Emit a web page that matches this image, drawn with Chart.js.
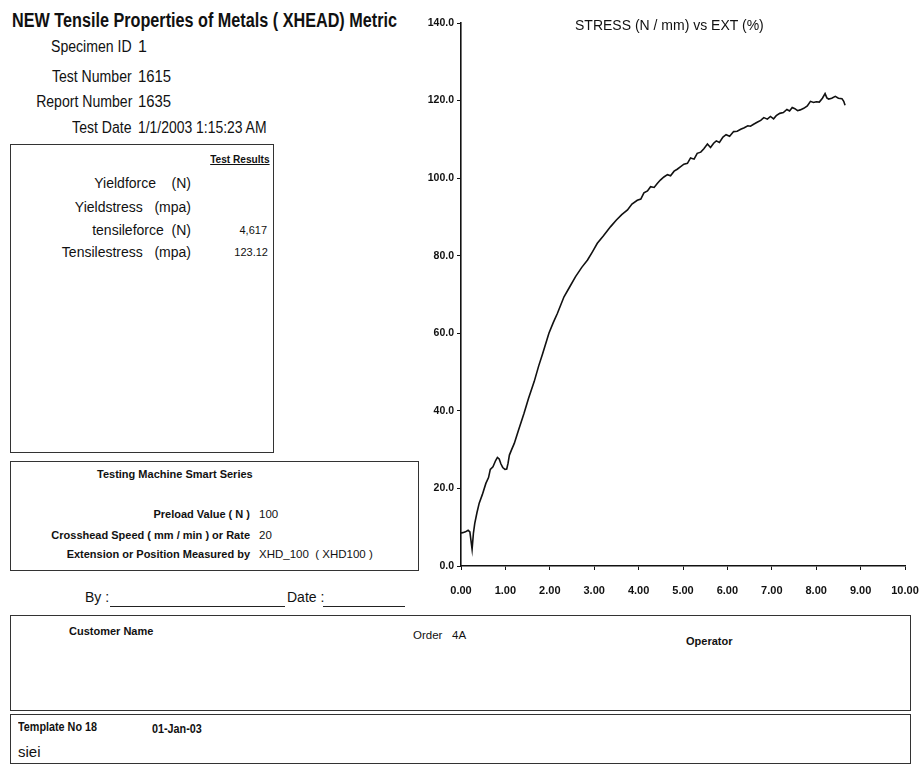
<!DOCTYPE html>
<html lang="en">
<head>
    <meta charset="UTF-8">
    <title>Tensile Properties of Metals</title>
    <script src="https://cdn.jsdelivr.net/npm/chart.js"></script>
    <style>
        body {
            margin: 0;
            background: #fff;
            color: #111;
            font-family: 'Liberation Sans', Arial, sans-serif;
        }
        #page {
            position: relative;
            width: 922px;
            height: 772px;
            overflow: hidden;
        }
        .t {
            position: absolute;
            white-space: nowrap;
            line-height: 1;
            transform-origin: left center;
        }
        .r { text-align: right; transform-origin: right center; }
        .b { font-weight: bold; }
        .hd { font-size: 16px; transform: scaleX(0.88); }
        .box {
            position: absolute;
            border: 1.5px solid #333;
            box-sizing: border-box;
        }
        .line {
            position: absolute;
            height: 0;
            border-top: 1.3px solid #222;
        }
        #chartWrap {
            position: absolute;
            left: 400px;
            top: 0;
            width: 522px;
            height: 620px;
        }
    </style>
</head>
<body>
<div id="page">
    <div class="t b" style="left:12px; top:10px; font-size:20px; transform:scaleX(0.81);">NEW Tensile Properties of Metals ( XHEAD) Metric</div>

    <div class="t r hd" style="right:790px; top:39px;">Specimen ID</div>
    <div class="t" style="left:138px; top:39px; font-size:16px;">1</div>
    <div class="t r hd" style="right:790px; top:69px;">Test Number</div>
    <div class="t" style="left:138px; top:69px; font-size:16px; transform:scaleX(0.93);">1615</div>
    <div class="t r hd" style="right:790px; top:94px;">Report Number</div>
    <div class="t" style="left:138px; top:94px; font-size:16px; transform:scaleX(0.93);">1635</div>
    <div class="t r hd" style="right:790px; top:120px;">Test Date</div>
    <div class="t" style="left:138px; top:120px; font-size:16px; transform:scaleX(0.87);">1/1/2003 1:15:23 AM</div>

    <div class="box" style="left:10px; top:144px; width:264px; height:309px;"></div>
    <div class="t r b" style="right:652px; top:154px; font-size:11px; text-decoration:underline; transform:scaleX(0.92);">Test Results</div>
    <div class="t r" style="right:731px; top:176px; font-size:14px;">Yieldforce&nbsp;&nbsp;&nbsp; (N)</div>
    <div class="t r" style="right:731px; top:200px; font-size:14px;">Yieldstress&nbsp;&nbsp; (mpa)</div>
    <div class="t r" style="right:731px; top:223px; font-size:14px;">tensileforce&nbsp; (N)</div>
    <div class="t r" style="right:655px; top:225px; font-size:11px;">4,617</div>
    <div class="t r" style="right:731px; top:245px; font-size:14px;">Tensilestress&nbsp;&nbsp; (mpa)</div>
    <div class="t r" style="right:654px; top:247px; font-size:11px;">123.12</div>

    <div class="box" style="left:10px; top:461px; width:409px; height:110px;"></div>
    <div class="t b" style="left:97px; top:469px; font-size:11px;">Testing Machine Smart Series</div>
    <div class="t r b" style="right:672px; top:509px; font-size:11px;">Preload Value ( N )</div>
    <div class="t" style="left:259px; top:509px; font-size:11.5px;">100</div>
    <div class="t r b" style="right:672px; top:530px; font-size:11px;">Crosshead Speed ( mm / min ) or Rate</div>
    <div class="t" style="left:259px; top:530px; font-size:11.5px;">20</div>
    <div class="t r b" style="right:672px; top:549px; font-size:11px;">Extension or Position Measured by</div>
    <div class="t" style="left:259px; top:549px; font-size:11.5px;">XHD_100&nbsp; ( XHD100 )</div>

    <div class="t" style="left:85px; top:590px; font-size:14px;">By :</div>
    <div class="line" style="left:110px; top:606px; width:175px;"></div>
    <div class="t" style="left:287px; top:590px; font-size:14px;">Date :</div>
    <div class="line" style="left:323px; top:606px; width:82px;"></div>

    <div class="box" style="left:10px; top:615px; width:901px; height:96px;"></div>
    <div class="t b" style="left:69px; top:626px; font-size:11px;">Customer Name</div>
    <div class="t" style="left:413px; top:630px; font-size:11.5px;">Order&nbsp;&nbsp; 4A</div>
    <div class="t b" style="left:686px; top:636px; font-size:11px;">Operator</div>

    <div class="box" style="left:10px; top:714px; width:901px; height:50px;"></div>
    <div class="t b" style="left:18px; top:721px; font-size:12px; transform:scaleX(0.9);">Template No 18</div>
    <div class="t b" style="left:152px; top:723px; font-size:12px; transform:scaleX(0.9);">01-Jan-03</div>
    <div class="t" style="left:18px; top:744px; font-size:15px;">siei</div>

    <div id="chartWrap">
        <canvas id="stressChart" width="522" height="620"></canvas>
    </div>
    <div class="t" style="left:575px; top:18px; font-size:14px;">STRESS (N / mm) vs EXT (%)</div>
</div>

<script>
    // extension (%)
    const extPct = [0.00, 0.04, 0.10, 0.16, 0.20, 0.25, 0.28, 0.31, 0.36, 0.41, 0.48, 0.56, 0.62, 0.66, 0.72, 0.78,
        0.82, 0.86, 0.90, 0.94, 0.99, 1.03, 1.06, 1.09, 1.14, 1.20, 1.30, 1.42, 1.52, 1.65, 1.75, 1.84, 1.98, 2.08,
        2.17, 2.32, 2.45, 2.58, 2.72, 2.85, 2.96, 3.07, 3.20, 3.37, 3.50, 3.62, 3.75, 3.85, 3.97, 4.05, 4.12, 4.20,
        4.27, 4.35, 4.42, 4.49, 4.57, 4.65, 4.72, 4.80, 4.87, 4.94, 5.02, 5.10, 5.17, 5.25, 5.32, 5.40, 5.47, 5.55,
        5.62, 5.69, 5.75, 5.82, 5.90, 5.97, 6.05, 6.14, 6.22, 6.30, 6.38, 6.46, 6.52, 6.59, 6.67, 6.75, 6.82, 6.90,
        6.97, 7.04, 7.10, 7.18, 7.26, 7.34, 7.40, 7.46, 7.52, 7.58, 7.64, 7.72, 7.80, 7.87, 7.94, 8.00, 8.07, 8.14,
        8.20, 8.24, 8.28, 8.35, 8.43, 8.50, 8.58, 8.62, 8.65];

    // stress (N/mm) at each extension
    const stress = [8.5, 8.6, 8.8, 9.2, 8.8, 4.3, 8.5, 11.0, 13.8, 16.2, 18.4, 21.3, 22.8, 24.9, 25.6, 27.2,
        28.0, 27.6, 26.3, 25.4, 24.9, 25.0, 26.5, 28.6, 30.0, 31.6, 35.2, 39.4, 43.2, 47.6, 51.6, 54.8, 60.0, 62.8,
        65.1, 69.4, 72.0, 74.6, 77.0, 78.9, 81.0, 83.2, 85.0, 87.5, 89.2, 90.6, 91.8, 93.3, 94.3, 94.6, 96.2, 96.7,
        97.8, 97.6, 98.6, 99.5, 100.3, 100.9, 100.6, 101.8, 102.3, 102.9, 103.6, 103.8, 105.2, 104.9, 106.4, 106.7, 107.6, 108.8,
        107.9, 109.0, 109.6, 109.2, 110.6, 111.2, 110.8, 112.0, 112.1, 112.6, 113.0, 113.5, 113.4, 113.9, 114.4, 114.9, 115.6, 115.2,
        115.9, 115.3, 116.1, 116.7, 116.9, 117.7, 117.3, 118.2, 117.9, 117.4, 117.6, 118.0, 118.6, 119.8, 119.5, 119.7, 119.6, 120.6,
        121.8, 120.7, 120.4, 120.6, 121.1, 120.6, 120.5, 119.8, 118.8];

    const yTicks = [0, 20, 40, 60, 80, 100, 120, 140];
    const xTicks = [0, 1, 2, 3, 4, 5, 6, 7, 8, 9, 10];

    const points = extPct.map((x, i) => ({ x: x, y: stress[i] }));
    const tickFont = { family: "'Liberation Sans', Arial, sans-serif", size: 11, weight: 'bold' };

    new Chart(document.getElementById('stressChart').getContext('2d'), {
        type: 'line',
        data: {
            datasets: [{
                data: points,
                borderColor: '#111',
                borderWidth: 1.6,
                pointRadius: 0,
                tension: 0,
                fill: false
            }]
        },
        options: {
            responsive: false,
            animation: false,
            devicePixelRatio: 1,
            layout: { padding: { left: 0, top: 23, right: 17, bottom: 24 } },
            plugins: { legend: { display: false }, title: { display: false }, tooltip: { enabled: false } },
            scales: {
                x: {
                    type: 'linear',
                    min: 0,
                    max: 10,
                    afterBuildTicks: s => { s.ticks = xTicks.map(v => ({ value: v })); },
                    afterFit: s => {
                        s.height = 30;
                        s.paddingLeft = 0;
                        s.paddingRight = 0;
                    },
                    ticks: {
                        color: '#111',
                        font: tickFont,
                        padding: 14,
                        maxRotation: 0,
                        callback: v => v.toFixed(2)
                    },
                    grid: { drawOnChartArea: false, drawTicks: true, tickLength: 4, color: '#111' },
                    border: { display: true, color: '#111', width: 1.6 }
                },
                y: {
                    min: 0,
                    max: 140,
                    afterBuildTicks: s => { s.ticks = yTicks.map(v => ({ value: v })); },
                    afterFit: s => {
                        s.width = 61;
                        s.paddingTop = 0;
                        s.paddingBottom = 0;
                    },
                    ticks: {
                        color: '#111',
                        font: { family: tickFont.family, size: 10.5, weight: 'bold' },
                        padding: 3,
                        callback: v => v.toFixed(1)
                    },
                    grid: { drawOnChartArea: false, drawTicks: true, tickLength: 4, color: '#111' },
                    border: { display: true, color: '#111', width: 1.6 }
                }
            }
        }
    });
</script>
</body>
</html>
